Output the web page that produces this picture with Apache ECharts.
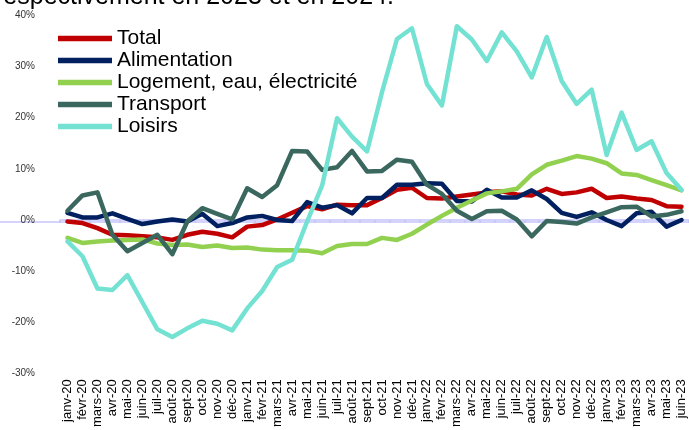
<!DOCTYPE html>
<html>
<head>
<meta charset="utf-8">
<script src="https://cdn.jsdelivr.net/npm/echarts@6/dist/echarts.min.js"></script>
<style>
html,body{margin:0;padding:0;background:#fff;}
#chart{width:689px;height:430px;}
</style>
</head>
<body>
<div id="chart"></div>
<script>
const categories = ["janv-20","févr-20","mars-20","avr-20","mai-20","juin-20","juil-20","août-20","sept-20","oct-20","nov-20","déc-20",
"janv-21","févr-21","mars-21","avr-21","mai-21","juin-21","juil-21","août-21","sept-21","oct-21","nov-21","déc-21",
"janv-22","févr-22","mars-22","avr-22","mai-22","juin-22","juil-22","août-22","sept-22","oct-22","nov-22","déc-22",
"janv-23","févr-23","mars-23","avr-23","mai-23","juin-23"];

const total = [-0.3,-0.6,-1.6,-2.9,-3.0,-3.2,-3.4,-3.9,-2.9,-2.3,-2.7,-3.4,
-1.3,-1.0,0.1,1.4,2.7,2.1,3.0,2.9,2.9,4.3,5.9,6.3,
4.3,4.2,4.6,5.0,5.4,5.6,5.0,4.8,6.1,5.1,5.4,6.1,
4.3,4.6,4.2,3.9,2.7,2.6];

const alimentation = [1.4,0.5,0.5,1.3,0.2,-0.8,-0.3,0.1,-0.3,1.2,-1.2,-0.6,
0.5,0.8,0.0,-0.2,3.5,2.4,2.9,1.3,4.3,4.3,6.9,6.9,
7.2,7.1,3.7,3.6,5.9,4.4,4.4,5.8,4.1,1.4,0.6,1.5,
0.0,-1.2,1.3,1.6,-1.3,0.0];

const logement = [-3.5,-4.5,-4.2,-4.0,-3.9,-3.8,-4.6,-4.9,-4.8,-5.3,-5.0,-5.5,
-5.4,-5.8,-5.9,-5.9,-6.0,-6.5,-5.1,-4.7,-4.7,-3.5,-3.9,-2.7,
-0.9,0.8,2.4,3.8,5.2,5.6,6.1,8.9,10.8,11.6,12.5,12.0,
11.1,9.1,8.8,7.8,6.8,5.8];

const transport = [1.8,4.8,5.4,-2.9,-6.1,-4.5,-2.9,-6.7,-0.3,2.3,1.2,0.1,
6.2,4.5,6.8,13.5,13.4,9.8,10.3,13.5,9.5,9.6,11.8,11.4,
6.9,5.1,1.8,0.2,1.7,1.8,0.1,-3.2,-0.2,-0.4,-0.7,0.5,
1.5,2.5,2.6,0.7,1.0,1.7];

const loisirs = [-4.2,-7.1,-13.4,-13.7,-10.8,-16.1,-21.4,-22.9,-21.2,-19.7,-20.3,-21.6,
-17.3,-13.9,-9.2,-7.8,-0.3,6.7,19.9,16.3,13.4,25.0,35.4,37.5,
26.6,22.4,37.9,35.3,31.1,36.7,33.0,27.9,35.8,27.2,22.7,25.5,
12.7,21.0,13.7,15.4,9.2,5.9];

const seriesNames = ["Total","Alimentation","Logement, eau, électricité","Transport","Loisirs"];
const seriesData = [total, alimentation, logement, transport, loisirs];
const seriesColors = ["#C00000","#002060","#92D050","#3A685E","#74E2D2"];

const yTicks = {min:-30, max:40, interval:10};
const titleText = "respectivement en 2023 et en 2024.";

const font = "'Liberation Sans', Arial, sans-serif";
const zeroLine = {color:"#C4C4FA", width:1.5};

const chart = echarts.init(document.getElementById('chart'), null, {renderer:'canvas'});

const option = {
  animation:false,
  backgroundColor:'#fff',
  title:{
    text:titleText, left:-10, top:-20,
    textStyle:{fontFamily:font, fontSize:25, fontWeight:'normal', color:'#000'}
  },
  legend:{
    orient:'vertical', left:53, top:23,
    itemWidth:54, itemHeight:8, itemGap:1,
    data:seriesNames,
    textStyle:{fontFamily:font, fontSize:21, color:'#000', lineHeight:21, padding:[0,0,0,0]},
    icon:'path://M0,0 L10,0 L10,1 L0,1 Z'
  },
  grid:[
    {left:60, right:0, top:15.5, bottom:53},
    {left:0, right:0, top:15.5, bottom:53}
  ],
  xAxis:[
    {type:'category', gridIndex:0, data:categories, position:'bottom',
      axisLine:{show:false, onZero:false}, axisTick:{show:false},
      axisLabel:{interval:0, rotate:90, margin:6, fontFamily:font, fontSize:13, color:'#000'}},
    {type:'category', gridIndex:0, data:categories, position:'top',
      axisLine:{show:true, onZero:true, lineStyle:zeroLine},
      axisTick:{show:true, inside:true, length:3, interval:0, lineStyle:zeroLine},
      axisLabel:{show:false}},
    {type:'category', gridIndex:1, data:[''],
      axisLine:{show:true, onZero:true, lineStyle:zeroLine},
      axisTick:{show:false}, axisLabel:{show:false}}
  ],
  yAxis:[
    {type:'value', gridIndex:0, min:yTicks.min, max:yTicks.max, interval:yTicks.interval,
      axisLine:{show:false}, axisTick:{show:false}, splitLine:{show:false},
      axisLabel:{margin:25, fontFamily:font, fontSize:10, color:'#333', formatter:'{value}%'}},
    {type:'value', gridIndex:1, min:yTicks.min, max:yTicks.max, show:false}
  ],
  series: seriesNames.map((n,i)=>({
    name:n, type:'line', xAxisIndex:0, yAxisIndex:0,
    data:seriesData[i], symbol:'none', smooth:false,
    lineStyle:{color:seriesColors[i], width:4.5, cap:'round', join:'round'},
    itemStyle:{color:seriesColors[i]},
    z:2+i
  }))
};
chart.setOption(option);
</script>
</body>
</html>
